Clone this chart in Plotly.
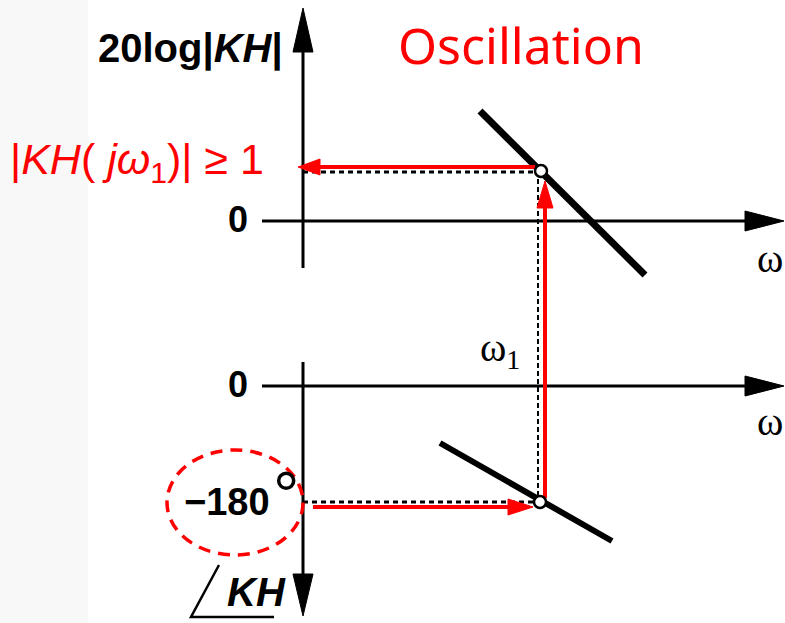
import plotly.graph_objects as go

W, H = 785, 623

# ---- diagram data (pixel-space coordinates of the sketch) ----
axis_x = 303
mag_zero_y = 221
phase_zero_y = 386
mag_line_x = [480, 645]
mag_line_y = [111, 275]
phase_line_x = [440, 612]
phase_line_y = [443, 541]
mag_point = (541, 171)
phase_point = (540, 502)

fig = go.Figure()

def line(xs, ys, color="black", width=3, dash="solid"):
    fig.add_trace(go.Scatter(x=xs, y=ys, mode="lines",
                             line=dict(color=color, width=width, dash=dash),
                             hoverinfo="skip", showlegend=False))

def tri(xs, ys, color="black"):
    fig.add_trace(go.Scatter(x=xs + [xs[0]], y=ys + [ys[0]], mode="lines",
                             fill="toself", fillcolor=color,
                             line=dict(color=color, width=1),
                             hoverinfo="skip", showlegend=False))

# background light strip on the left
fig.add_shape(type="rect", x0=0, x1=88, y0=0, y1=H, fillcolor="#f8f8f8",
              line=dict(width=0), layer="below")

# Upper axes
line([axis_x, axis_x], [268, 45])
tri([axis_x - 10, axis_x + 10, axis_x], [52, 52, 8])
line([262, 750], [mag_zero_y, mag_zero_y])
tri([745, 745, 784], [mag_zero_y - 10, mag_zero_y + 10, mag_zero_y])

# Lower axes
line([axis_x, axis_x], [362, 580])
tri([axis_x - 10, axis_x + 10, axis_x], [574, 574, 616])
line([262, 750], [phase_zero_y, phase_zero_y])
tri([745, 745, 784], [phase_zero_y - 10, phase_zero_y + 10, phase_zero_y])

# Magnitude and phase lines
line(mag_line_x, mag_line_y, width=7)
line(phase_line_x, phase_line_y, width=6)

# Dashed projections
line([axis_x, mag_point[0] - 6], [mag_point[1] + 1, mag_point[1] + 1], width=3, dash="5px,4px")
line([axis_x, phase_point[0] - 6], [phase_point[1], phase_point[1]], width=3, dash="5px,4px")
line([phase_point[0] - 2, phase_point[0] - 2], [mag_point[1] + 8, phase_point[1] - 6], width=2, dash="5px,3px")

# Red arrows
line([mag_point[0] - 6, 318], [167, 167], color="red", width=4)
tri([320, 320, 298], [159, 175, 167], color="red")
line([545, 545], [498, 205], color="red", width=4)
tri([537, 553, 545], [208, 208, 181], color="red")
line([313, 510], [507, 507], color="red", width=4)
tri([508, 508, 533], [499, 515, 507], color="red")

# Points
fig.add_trace(go.Scatter(x=[mag_point[0], phase_point[0]], y=[mag_point[1], phase_point[1]],
                         mode="markers",
                         marker=dict(size=12, color="white", line=dict(color="black", width=2.5)),
                         hoverinfo="skip", showlegend=False))

# Dashed ellipse
fig.add_shape(type="circle", x0=167, x1=303, y0=450, y1=555,
              line=dict(color="red", width=3.5, dash="12px,8px"))

# Angle symbol
line([219, 191, 274], [565, 617, 617], width=2.5)

sans = "Liberation Sans, Arial, sans-serif"
serif = "Liberation Serif, Times New Roman, serif"

def text(x, y, s, size, color="black", family=sans, xanchor="center"):
    fig.add_annotation(x=x, y=y, text=s, showarrow=False, xanchor=xanchor, yanchor="middle",
                       font=dict(size=size, color=color, family=family))

text(190, 48, "<b>20log|<i>KH</i>|</b>", 40)
text(521, 45, "Oscillation", 50, color="red", family="Noto Sans, Open Sans, sans-serif")
text(137, 162, "|<i>KH</i>( <i>jω</i><sub>1</sub>)| ≥ 1", 43, color="red")
text(238, 219, "<b>0</b>", 36)
text(238, 384, "<b>0</b>", 36)
text(785, 258, "ω", 40, family=serif, xanchor="right")
text(785, 421, "ω", 40, family=serif, xanchor="right")
text(500, 350, "ω<sub>1</sub>", 40, family=serif)
text(227, 502, "<b>−180</b>", 38)
text(286, 495, "°", 66)
text(256, 592, "<b><i>KH</i></b>", 40)

fig.update_layout(width=W, height=H, margin=dict(l=0, r=0, t=0, b=0),
                  paper_bgcolor="white", plot_bgcolor="white",
                  xaxis=dict(range=[0, W], visible=False, fixedrange=True),
                  yaxis=dict(range=[H, 0], visible=False, fixedrange=True))

fig.write_html("out.html", config={"displayModeBar": False},
               post_script="document.body.style.margin='0';document.body.style.overflow='hidden';")
